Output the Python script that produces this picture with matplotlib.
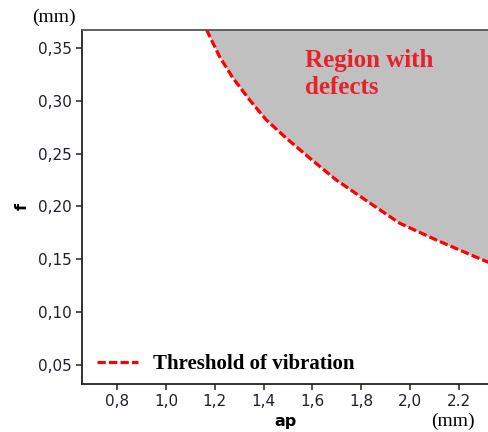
import numpy as np
import matplotlib
matplotlib.use("Agg")
import matplotlib.pyplot as plt

# threshold of vibration curve
ap_vals = [1.166, 1.220, 1.274, 1.342, 1.410, 1.492, 1.587, 1.696,
           1.805, 1.956, 2.105, 2.295, 2.323]
f_vals = [0.3673, 0.3415, 0.3216, 0.3010, 0.2821, 0.2648, 0.2461,
          0.2253, 0.2080, 0.1843, 0.1685, 0.1496, 0.1470]

x_ticks = [0.8, 1.0, 1.2, 1.4, 1.6, 1.8, 2.0, 2.2]
x_labels = ["0,8", "1,0", "1,2", "1,4", "1,6", "1,8", "2,0", "2.2"]
y_ticks = [0.05, 0.10, 0.15, 0.20, 0.25, 0.30, 0.35]
y_labels = ["0,05", "0,10", "0,15", "0,20", "0,25", "0,30", "0,35"]

x_min, x_max = 0.656, 2.323
y_min, y_max = 0.032, 0.367

serif = "Liberation Serif"
tick_col = "#20202c"

fig = plt.figure(figsize=(4.89, 4.32), dpi=100)
ax = fig.add_axes([82 / 489, 48 / 432, 407 / 489, 354 / 432])

ax.fill_between(ap_vals, f_vals, y_max + 0.01, color="#c0c0c0", lw=0)
ax.plot(ap_vals, f_vals, color="#ff0000", lw=2.3, dashes=(2.6, 1.0),
        label="Threshold of vibration")

ax.set_xlim(x_min, x_max)
ax.set_ylim(y_min, y_max)
ax.set_xticks(x_ticks)
ax.set_xticklabels(x_labels)
ax.set_yticks(y_ticks)
ax.set_yticklabels(y_labels)
ax.tick_params(labelsize=11, colors="#333333", labelcolor=tick_col,
               length=4, width=1.2, direction="out")

for side in ["left", "bottom"]:
    ax.spines[side].set_linewidth(1.3)
    ax.spines[side].set_color("#222222")
ax.spines["top"].set_linewidth(1.3)
ax.spines["top"].set_color("#555555")
ax.spines["right"].set_visible(False)

ax.set_xlabel("ap", fontsize=11.5, fontweight="bold", labelpad=3)
ax.set_ylabel("f", fontsize=11.5, fontweight="bold", labelpad=6)

fig.text(32 / 489, 1 - 17 / 432, "(mm)", family=serif, fontsize=14,
         va="center", ha="left")
fig.text(431 / 489, 1 - 421 / 432, "(mm)", family=serif, fontsize=14,
         va="center", ha="left")

ax.text(1.568, 0.3255, "Region with\ndefects", family=serif, fontsize=18,
        fontweight="bold", color="#e8202a", ha="left", va="center",
        linespacing=1.2)

leg = ax.legend(loc="lower left", bbox_to_anchor=(-0.01, -0.025), frameon=False,
                handlelength=2.0, handletextpad=0.7,
                prop={"family": serif, "weight": "bold", "size": 15})

fig.savefig("out.png", dpi=100)
